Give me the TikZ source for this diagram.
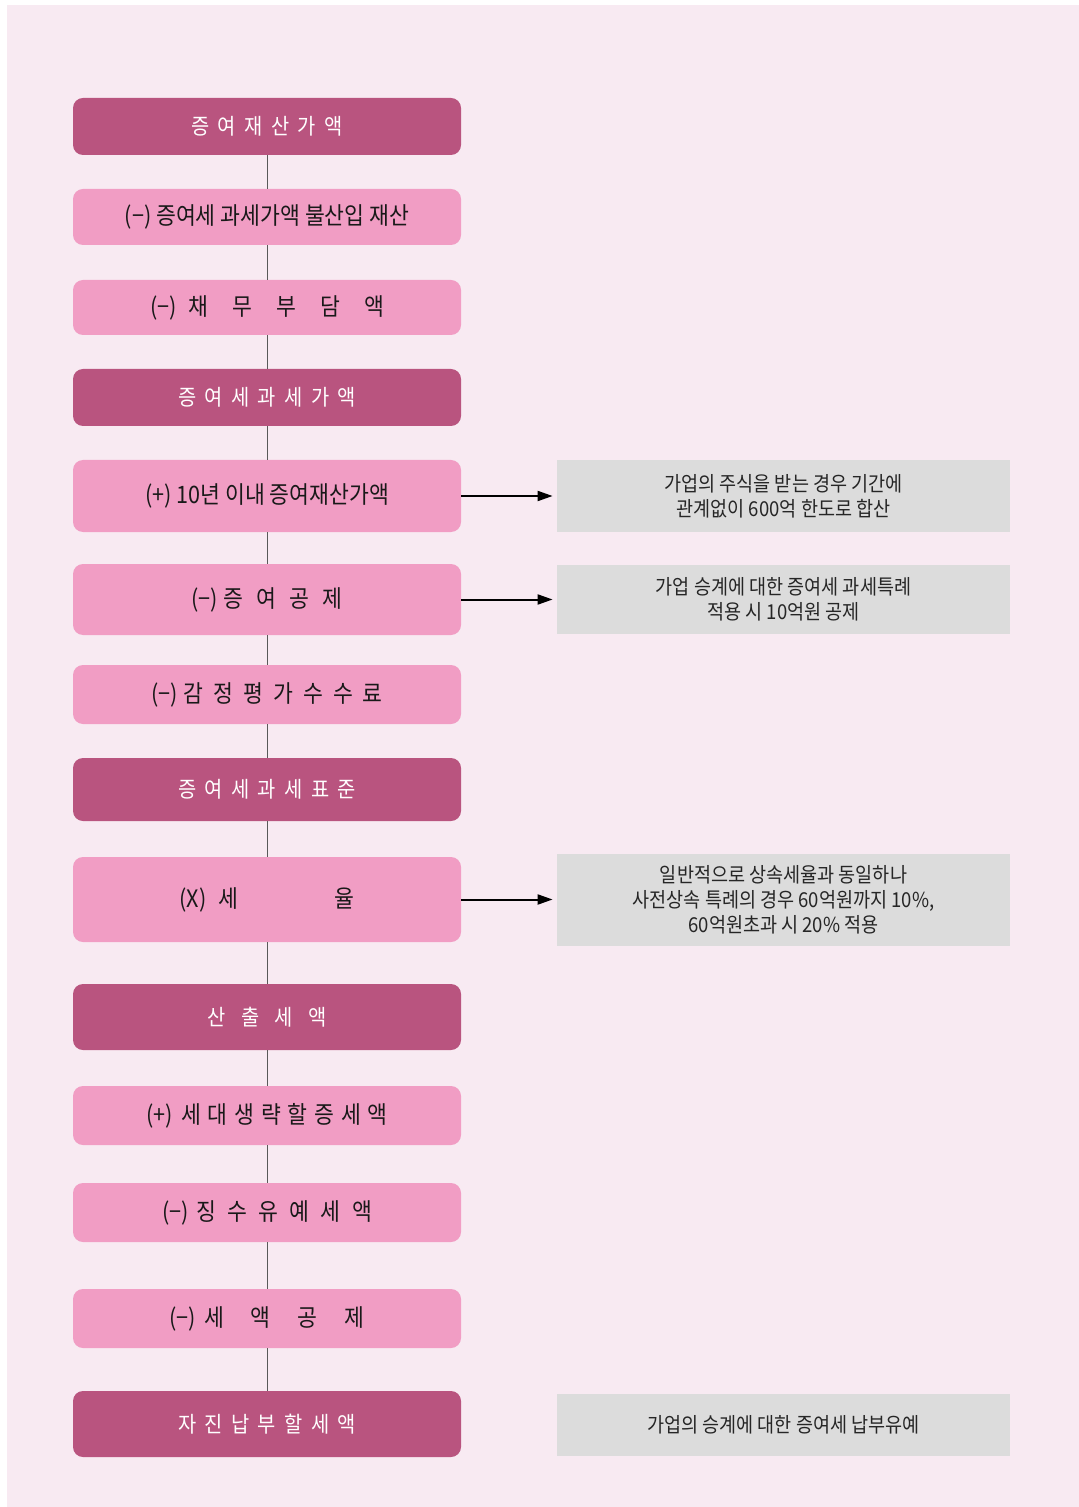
\documentclass[tikz,border=0pt]{standalone}
\usepackage{fontspec}
\setmainfont{Noto Sans CJK KR}[FakeStretch=0.9]
\usetikzlibrary{arrows.meta}

\definecolor{pagebg}{HTML}{F8EAF2}
\definecolor{darkpink}{HTML}{B9547F}
\definecolor{lightpink}{HTML}{F19DC4}
\definecolor{notegray}{HTML}{DCDCDC}

% spread the letters of a word with a fixed gap
\makeatletter
\newcommand{\spaced}[2]{\def\spaced@gap{}\@tfor\spaced@c:=#2\do{\spaced@gap\spaced@c\def\spaced@gap{\hspace{#1}}}}
\makeatother

\begin{document}
\begin{tikzpicture}[x=0.5pt, y=-0.5pt,
    stepdark/.style={rounded corners=5pt, fill=darkpink, text=white, minimum width=194pt, inner sep=0pt, font=\fontsize{11}{13}\selectfont},
    steplight/.style={rounded corners=5pt, fill=lightpink, text=black!90, minimum width=194pt, inner sep=0pt, font=\fontsize{12}{14}\selectfont},
    notebox/.style={fill=notegray, text=black!85, minimum width=226.5pt, inner sep=0pt, align=center, font=\fontsize{10.3}{12.5}\selectfont},
    link/.style={draw=black!65, line width=0.5pt},
    arrow/.style={-{Triangle[length=7.5pt,width=5pt]}, line width=1pt, shorten >=2pt}]
    % page
    \fill[white] (0,0) rectangle (1079,1507);
    \fill[pagebg] (7,5) rectangle (1079,1507);
    \useasboundingbox (0,0) rectangle (1079,1507);

    % main column
    \node[stepdark, minimum height=28.5pt] (b1) at (267,126.5) {\spaced{4.2pt}{증여재산가액}};
    \node[steplight, minimum height=28pt] (b2) at (267,217) {(−) 증여세 과세가액 불산입 재산};
    \node[steplight, minimum height=27.5pt] (b3) at (267,307.5) {(−)\hspace{6pt}\spaced{12pt}{채무부담액}};
    \node[stepdark, minimum height=28.5pt] (b4) at (267,397.5) {\spaced{4.2pt}{증여세과세가액}};
    \node[steplight, minimum height=36pt] (b5) at (267,496) {(+) 10년 이내 증여재산가액};
    \node[steplight, minimum height=35.5pt] (b6) at (267,599.5) {(−)\hspace{3pt}\spaced{6.6pt}{증여공제}};
    \node[steplight, minimum height=29.5pt] (b7) at (267,694.5) {(−)\hspace{3pt}\spaced{5pt}{감정평가수수료}};
    \node[stepdark, minimum height=31.5pt] (b8) at (267,789.5) {\spaced{4.2pt}{증여세과세표준}};
    \node[steplight, minimum height=42.5pt] (b9) at (267,899.5) {(X)\hspace{6pt}\spaced{48pt}{세율}};
    \node[stepdark, minimum height=33pt] (b10) at (267,1017) {\spaced{7.6pt}{산출세액}};
    \node[steplight, minimum height=29.5pt] (b11) at (267,1115.5) {(+)\hspace{4pt}\spaced{3.4pt}{세대생략할증세액}};
    \node[steplight, minimum height=29.5pt] (b12) at (267,1212.5) {(−)\hspace{4pt}\spaced{5.6pt}{징수유예세액}};
    \node[steplight, minimum height=29.5pt] (b13) at (267,1318.5) {(−)\hspace{4pt}\spaced{13.5pt}{세액공제}};
    \node[stepdark, minimum height=33pt] (b14) at (267,1424) {\spaced{4.2pt}{자진납부할세액}};

    % notes on the right
    \node[notebox, minimum height=35.5pt] (c1) at (783.5,496) {가업의 주식을 받는 경우 기간에\\관계없이 600억 한도로 합산};
    \node[notebox, minimum height=34.5pt] (c2) at (783.5,599.5) {가업 승계에 대한 증여세 과세특례\\적용 시 10억원 공제};
    \node[notebox, minimum height=46pt] (c3) at (783.5,899.5) {일반적으로 상속세율과 동일하나\\사전상속 특례의 경우 60억원까지 10\%,\\60억원초과 시 20\% 적용};
    \node[notebox, minimum height=31pt] (c4) at (783.5,1425) {가업의 승계에 대한 증여세 납부유예};

    \foreach \a/\b in {b1/b2, b2/b3, b3/b4, b4/b5, b5/b6, b6/b7, b7/b8, b8/b9, b9/b10, b10/b11, b11/b12, b12/b13, b13/b14}
        \draw[link] (\a) -- (\b);

    \draw[arrow] (b5) -- (c1);
    \draw[arrow] (b6) -- (c2);
    \draw[arrow] (b9) -- (c3);
\end{tikzpicture}
\end{document}
